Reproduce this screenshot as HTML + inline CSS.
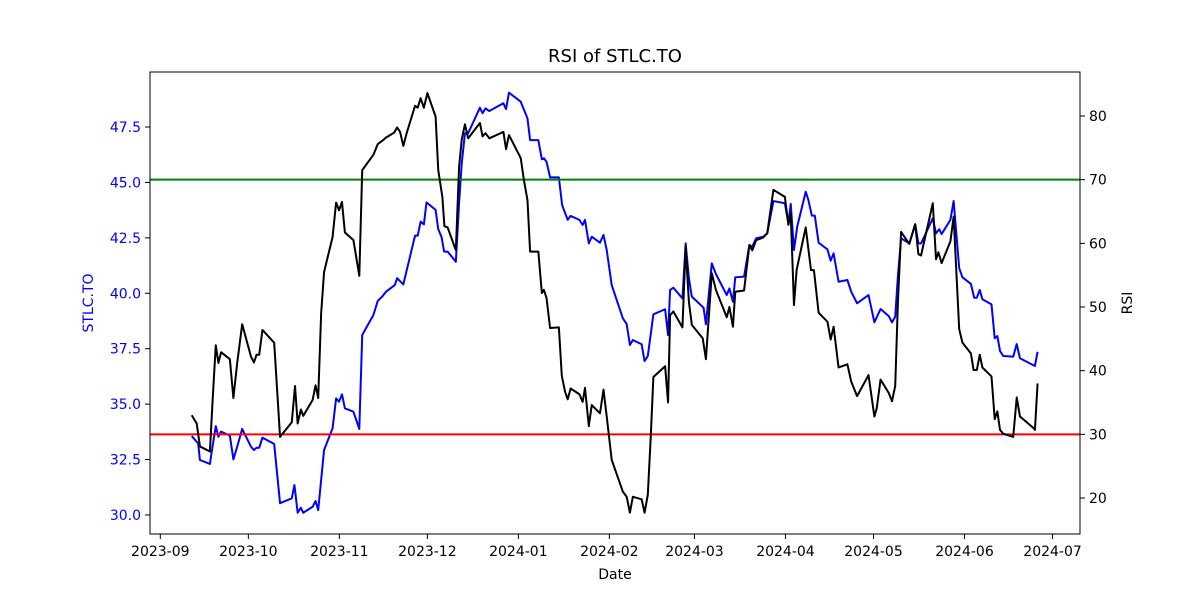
<!DOCTYPE html>
<html><head><meta charset="utf-8"><style>
body{margin:0;background:#fff;}
svg text{font-family:"DejaVu Sans","Liberation Sans",sans-serif;}
</style></head><body>
<svg id="chart" width="1200" height="600" xmlns="http://www.w3.org/2000/svg">
<rect width="1200" height="600" fill="#fff"/>
<text x="615" y="62" font-size="18" text-anchor="middle">RSI of STLC.TO</text>
<text x="615" y="579" font-size="14" text-anchor="middle">Date</text>
<text transform="translate(93,303) rotate(-90)" font-size="14" fill="#0000ff" text-anchor="middle">STLC.TO</text>
<text transform="translate(1132,303) rotate(-90)" font-size="14" text-anchor="middle">RSI</text>
<g id="marks"></g>
<rect x="150" y="72" width="930" height="462" fill="none" stroke="#000" stroke-width="1"/>
</svg>
<script>
const priceDays=[10.7,12.9,13.5,16.9,17.7,18.9,19.8,20.7,23.7,24.9,26.2,27.9,30.9,31.9,32.8,33.7,34.8,38.8,40.8,44.8,45.7,46.8,47.9,48.7,51.9,52.9,53.8,54.8,55.8,58.7,59.9,60.9,61.9,62.9,65.8,67.8,68.8,72.6,74.1,75.6,76.9,79.9,80.7,82.8,86.8,87.7,88.7,89.8,90.7,93.8,94.7,95.8,96.7,97.9,100.7,101.8,102.7,103.8,104.9,108.9,109.8,110.8,112.1,116.9,117.8,118.8,122.8,125.1,126.0,128.8,130.0,130.7,131.6,132.8,135.8,136.9,138.8,139.8,142.8,143.9,144.7,146.0,147.0,149.8,151.0,152.1,153.8,157.6,158.9,160.0,161.0,164.0,165.0,166.1,168.0,172.0,173.0,173.7,174.8,177.9,179.0,180.1,181.1,185.1,185.9,187.9,189.3,193.0,193.9,195.1,195.9,198.9,200.7,201.7,203.0,205.4,206.8,208.9,212.8,214.0,214.8,215.9,217.0,219.9,220.8,222.0,223.0,224.3,227.3,228.4,229.4,231.1,234.1,235.4,237.4,241.3,243.3,245.4,248.2,249.3,250.4,251.3,252.4,255.2,257.2,258.3,259.2,263.2,264.3,265.4,266.2,269.2,270.3,272.2,273.3,276.2,277.3,278.2,279.2,280.1,283.2,284.3,285.2,286.1,287.2,290.6,291.8,292.9,298.0,298.9];
const priceValues=[33.56,33.23,32.48,32.30,33.00,34.01,33.53,33.76,33.58,32.51,33.08,33.88,33.08,32.93,33.03,33.03,33.49,33.20,30.53,30.75,31.35,30.10,30.33,30.10,30.37,30.63,30.22,31.58,32.93,33.91,35.26,35.11,35.44,34.81,34.66,33.88,38.12,39.02,39.66,39.85,40.07,40.37,40.68,40.40,42.60,42.60,43.23,43.11,44.10,43.76,42.89,42.55,41.88,41.88,41.42,44.06,45.86,47.22,47.22,48.37,48.12,48.34,48.22,48.57,48.31,49.05,48.64,47.89,46.91,46.91,46.04,46.09,45.93,45.23,45.23,43.98,43.31,43.49,43.31,43.08,43.31,42.25,42.55,42.28,42.63,41.95,40.37,38.87,38.61,37.67,37.89,37.70,36.94,37.17,39.05,39.28,38.12,40.15,40.25,39.77,42.25,40.68,39.85,39.35,38.60,41.35,40.87,39.92,40.22,39.62,40.72,40.75,42.18,42.10,42.48,42.55,42.70,44.16,44.06,43.16,44.03,41.95,43.00,44.58,44.21,43.50,43.50,42.28,41.98,41.47,41.80,40.52,40.60,40.07,39.55,39.92,38.69,39.29,38.97,38.69,38.94,40.75,42.48,42.25,43.11,42.25,42.25,43.38,42.70,42.89,42.67,43.31,44.16,41.13,40.72,40.42,39.80,39.80,40.15,39.73,39.50,37.97,38.07,37.40,37.17,37.14,37.71,37.07,36.72,37.36];
const rsiDays=[10.7,12.4,13.5,16.9,17.7,18.9,19.8,20.7,23.7,24.9,26.2,27.9,30.9,31.9,32.8,33.7,34.8,38.8,40.8,44.8,45.9,46.8,47.9,48.7,51.9,52.9,53.8,54.8,55.8,58.7,59.9,60.9,61.9,62.9,65.8,67.8,68.8,72.6,74.1,75.6,76.9,79.7,80.7,81.7,82.8,84.0,86.8,87.7,88.7,89.8,91.0,93.8,94.7,96.1,96.8,97.9,100.7,101.8,102.7,103.8,104.9,108.9,109.8,110.8,112.1,116.9,117.8,118.8,122.8,123.9,125.1,126.0,128.8,130.0,130.7,131.6,132.8,135.8,136.8,137.9,138.8,139.8,142.8,143.9,144.7,146.0,147.0,149.8,151.0,152.1,153.8,157.6,158.9,160.0,161.0,164.0,165.0,166.1,167.1,168.0,172.0,173.0,173.7,174.8,177.9,179.0,180.1,181.1,184.8,185.9,187.9,189.3,193.0,193.9,195.1,195.9,198.9,200.7,201.7,203.0,205.4,206.8,208.9,212.8,214.0,214.8,215.9,216.8,219.9,221.7,222.7,224.3,227.3,228.4,229.4,231.1,234.1,235.4,237.4,241.3,243.3,244.1,245.4,248.2,249.3,250.4,251.3,252.4,255.2,257.2,258.3,259.2,263.2,264.3,265.1,266.2,269.2,270.3,272.2,273.3,276.2,277.1,278.2,279.2,280.1,283.2,284.3,285.2,286.1,287.2,290.6,291.8,292.9,297.5,298.0,298.9];
const rsiValues=[33.0,31.7,28.1,27.3,34.3,44.0,41.2,42.9,41.8,35.7,41.2,47.3,42.2,41.3,42.5,42.5,46.4,44.4,29.6,31.9,37.6,31.7,33.9,32.9,35.4,37.7,35.7,49.0,55.5,61.0,66.4,65.2,66.5,61.7,60.5,54.9,71.5,73.9,75.6,76.1,76.6,77.4,78.2,77.5,75.3,77.4,81.6,81.3,82.8,81.3,83.6,79.9,71.5,67.3,62.7,62.5,58.9,72.0,76.3,78.7,76.5,78.9,76.8,77.3,76.5,77.5,74.8,77.0,73.4,69.9,66.8,58.7,58.7,52.2,52.7,51.4,46.7,46.8,39.2,36.7,35.5,37.2,36.3,35.1,37.3,31.3,34.6,33.3,37.0,32.8,26.0,21.0,20.2,17.7,20.2,19.8,17.7,20.5,29.6,39.0,40.7,35.0,48.7,49.3,46.8,59.5,50.8,47.2,45.1,41.8,55.3,52.7,48.4,50.0,46.9,52.4,52.6,59.7,58.9,60.5,60.9,61.6,68.4,67.3,62.9,64.7,50.3,55.8,62.5,55.8,55.8,49.1,47.7,44.9,46.9,40.5,41.0,38.3,36.0,39.3,32.8,34.1,38.6,36.5,35.2,37.6,50.6,61.8,59.9,63.0,58.3,58.1,66.3,57.5,58.6,56.9,60.3,64.2,46.5,44.4,42.7,40.1,40.1,42.5,40.5,39.1,32.4,33.6,30.7,30.1,29.6,35.8,32.8,31.0,30.7,38.0];
const xTickLabels=["2023-09","2023-10","2023-11","2023-12","2024-01","2024-02","2024-03","2024-04","2024-05","2024-06","2024-07"];
const xTickDays=[0,30,61,91,122,153,182,213,243,274,304];
const leftTicks=[30.0,32.5,35.0,37.5,40.0,42.5,45.0,47.5];
const rightTicks=[20,30,40,50,60,70,80];
const overbought=70, oversold=30;

const xS=d=>160.3+d*2.935;
const yL=v=>127+(47.5-v)*22.17;
const yR=v=>116+(80-v)*6.367;
const NS="http://www.w3.org/2000/svg";
const g=document.getElementById('marks');
function mk(t,a){const e=document.createElementNS(NS,t);for(const k in a)e.setAttribute(k,a[k]);g.appendChild(e);return e;}

xTickLabels.forEach((lab,i)=>{
  const x=xS(xTickDays[i]);
  const t=mk('line',{x1:x,x2:x,y1:534,y2:539,stroke:'#000'});
  
  
  const tx=mk('text',{x:x,y:556,'font-size':14,'text-anchor':'middle'});
  tx.textContent=lab;
  
  
});
leftTicks.forEach(v=>{
  const y=yL(v);
  const t=mk('line',{x1:145,x2:150,y1:y,y2:y,stroke:'#000'});
  
  
  const tx=mk('text',{x:141,y:y+5,'font-size':14,'text-anchor':'end',fill:'#0000ff'});
  tx.textContent=v.toFixed(1);
  
  
});
rightTicks.forEach(v=>{
  const y=yR(v);
  const t=mk('line',{x1:1080,x2:1085,y1:y,y2:y,stroke:'#000'});
  
  
  const tx=mk('text',{x:1089,y:y+5,'font-size':14});
  tx.textContent=v;
  
  
});
const pp=mk('polyline',{points:priceDays.map((d,i)=>xS(d)+','+yL(priceValues[i])).join(' '),fill:'none',stroke:'#0000ff','stroke-width':2,'stroke-linejoin':'round'});


const ob=mk('line',{x1:150,x2:1080,y1:yR(overbought),y2:yR(overbought),stroke:'#008000','stroke-width':2});


const os=mk('line',{x1:150,x2:1080,y1:yR(oversold),y2:yR(oversold),stroke:'#ff0000','stroke-width':2});


const rp=mk('polyline',{points:rsiDays.map((d,i)=>xS(d)+','+yR(rsiValues[i])).join(' '),fill:'none',stroke:'#000','stroke-width':2,'stroke-linejoin':'round'});


</script>
</body></html>
